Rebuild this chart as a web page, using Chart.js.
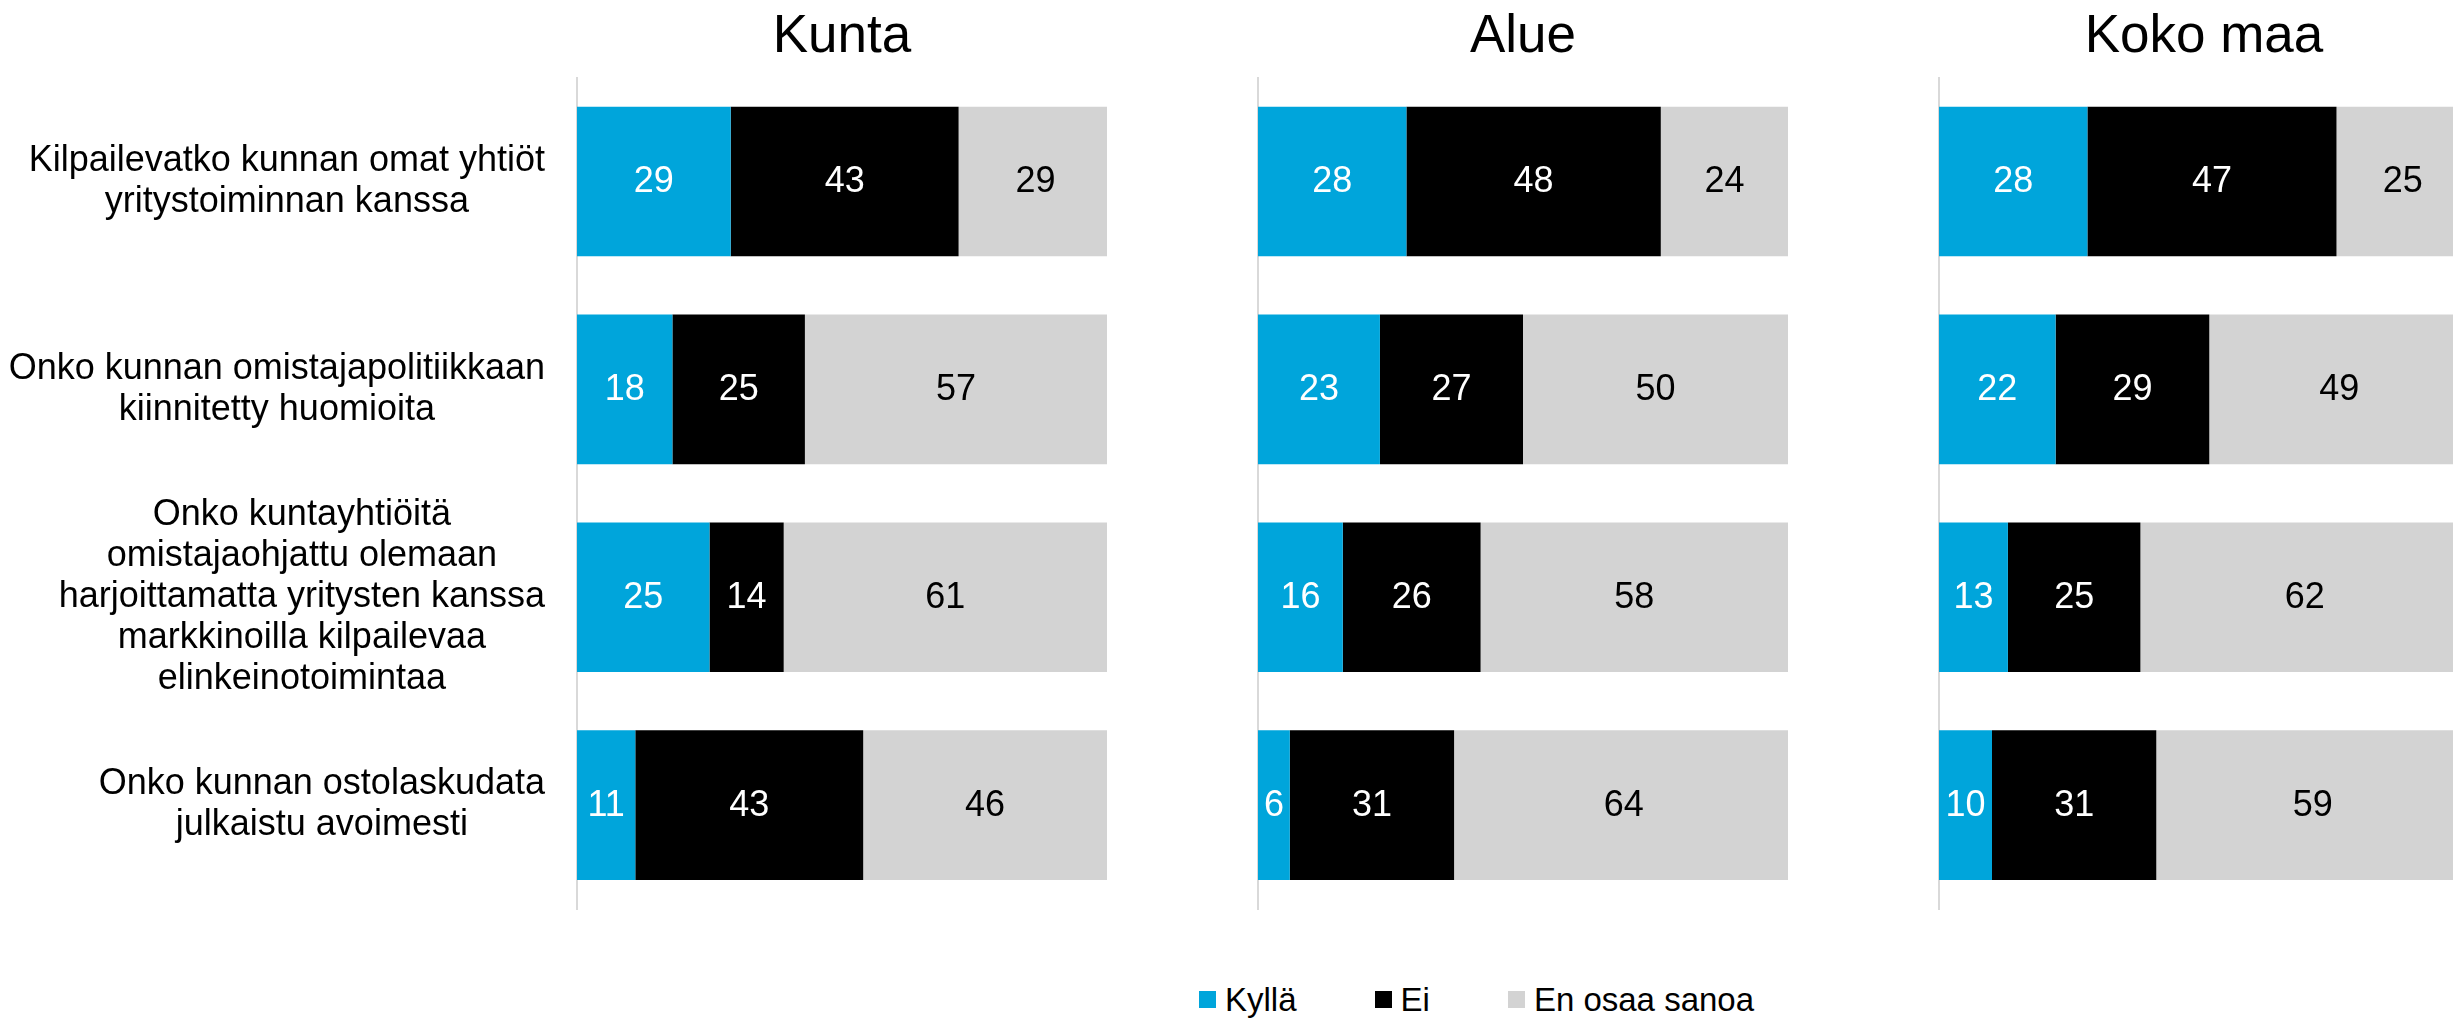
<!DOCTYPE html>
<html>
<head>
<meta charset="utf-8">
<script src="https://cdn.jsdelivr.net/npm/chart.js@4.4.0/dist/chart.umd.min.js"></script>
<style>
    html, body { margin: 0; padding: 0; background: #fff; overflow: hidden; }
    body { width: 2453px; height: 1018px; position: relative; font-family: "Liberation Sans", Arial, sans-serif; }
    canvas { position: absolute; top: 0; }
    #legend { position: absolute; left: 1199px; top: 983px; height: 33px; display: flex; align-items: center; font-size: 33px; line-height: 33px; color: #000; }
    .item { display: flex; align-items: center; margin-right: 78px; }
    .box { width: 17px; height: 17px; margin-right: 9px; }
</style>
</head>
<body>
<canvas id="kuntaChart" width="1130" height="910" style="left:0px"></canvas>
<canvas id="alueChart" width="550" height="910" style="left:1248px"></canvas>
<canvas id="maaChart" width="550" height="910" style="left:1929px"></canvas>
<div id="legend"></div>

<script>
// Data
const categories = [
    ['Kilpailevatko kunnan omat yhtiöt', 'yritystoiminnan kanssa'],
    ['Onko kunnan omistajapolitiikkaan', 'kiinnitetty huomioita'],
    ['Onko kuntayhtiöitä', 'omistajaohjattu olemaan', 'harjoittamatta yritysten kanssa', 'markkinoilla kilpailevaa', 'elinkeinotoimintaa'],
    ['Onko kunnan ostolaskudata', 'julkaistu avoimesti']
];
const seriesNames = ['Kyllä', 'Ei', 'En osaa sanoa'];

const kuntaKylla = [29, 18, 25, 11];
const kuntaEi = [43, 25, 14, 43];
const kuntaEos = [29, 57, 61, 46];

const alueKylla = [28, 23, 16, 6];
const alueEi = [48, 27, 26, 31];
const alueEos = [24, 50, 58, 64];

const maaKylla = [28, 22, 13, 10];
const maaEi = [47, 29, 25, 31];
const maaEos = [25, 49, 62, 59];

// Colors
const blue = '#00a5db';
const black = '#000000';
const grey = '#d3d3d3';
const seriesColors = [blue, black, grey];
const labelColors = ['#ffffff', '#ffffff', '#000000'];
const fontFamily = '"Liberation Sans", Arial, sans-serif';

Chart.defaults.font.family = fontFamily;

// values printed in the middle of each segment
const segmentLabels = {
    id: 'segmentLabels',
    afterDatasetsDraw(chart) {
        const ctx = chart.ctx;
        ctx.save();
        ctx.font = '36px ' + fontFamily;
        ctx.textAlign = 'center';
        ctx.textBaseline = 'middle';
        chart.data.datasets.forEach((ds, i) => {
            const meta = chart.getDatasetMeta(i);
            ctx.fillStyle = labelColors[i];
            meta.data.forEach((bar, j) => {
                ctx.fillText(ds.data[j], (bar.x + bar.base) / 2, bar.y + 1);
            });
        });
        ctx.restore();
    }
};

// category text: each block centred on itself, blocks right-aligned
const categoryText = {
    id: 'categoryText',
    afterDraw(chart) {
        const ctx = chart.ctx;
        const yScale = chart.scales.y;
        const right = chart.chartArea.left - 32;
        const lineH = 41;
        ctx.save();
        ctx.font = '36px ' + fontFamily;
        ctx.fillStyle = '#000';
        ctx.textAlign = 'center';
        ctx.textBaseline = 'middle';
        chart.data.labels.forEach((lines, i) => {
            const maxW = Math.max(...lines.map(l => ctx.measureText(l).width));
            const cx = right - maxW / 2;
            const cy = yScale.getPixelForValue(i);
            lines.forEach((l, k) => {
                ctx.fillText(l, cx, cy + (k - (lines.length - 1) / 2) * lineH);
            });
        });
        ctx.restore();
    }
};

function makePanel(id, title, kylla, ei, eos, padLeft, padRight, withCategories) {
    const values = [kylla, ei, eos];
    const plugins = [segmentLabels];
    if (withCategories) plugins.push(categoryText);

    new Chart(document.getElementById(id), {
        type: 'bar',
        data: {
            labels: categories,
            datasets: seriesNames.map((name, i) => ({
                label: name,
                data: values[i],
                backgroundColor: seriesColors[i],
                borderWidth: 0,
                barPercentage: 0.72,
                categoryPercentage: 1,
                clip: 0
            }))
        },
        options: {
            indexAxis: 'y',
            responsive: false,
            animation: false,
            layout: { padding: { left: padLeft, right: padRight, top: 0, bottom: 1 } },
            plugins: {
                legend: { display: false },
                tooltip: { enabled: false },
                title: {
                    display: true,
                    text: title,
                    color: '#000',
                    font: { size: 53, weight: 'normal', family: fontFamily },
                    padding: { top: 6, bottom: 8 }
                }
            },
            scales: {
                x: { stacked: true, min: 0, max: 100, display: false },
                y: {
                    stacked: true,
                    ticks: { display: false },
                    grid: { display: false },
                    border: { display: true, color: '#d9d9d9', width: 2 },
                    afterFit(scale) { scale.width = 0; }
                }
            }
        },
        plugins: plugins
    });
}

makePanel('kuntaChart', 'Kunta', kuntaKylla, kuntaEi, kuntaEos, 577, 23, true);
makePanel('alueChart', 'Alue', alueKylla, alueEi, alueEos, 10, 10, false);
makePanel('maaChart', 'Koko maa', maaKylla, maaEi, maaEos, 10, 10, false);

// legend
const legendEl = document.getElementById('legend');
seriesNames.forEach((name, i) => {
    const item = document.createElement('div');
    item.className = 'item';
    const box = document.createElement('span');
    box.className = 'box';
    box.style.background = seriesColors[i];
    const txt = document.createElement('span');
    txt.textContent = name;
    item.appendChild(box);
    item.appendChild(txt);
    legendEl.appendChild(item);
});
</script>
</body>
</html>
